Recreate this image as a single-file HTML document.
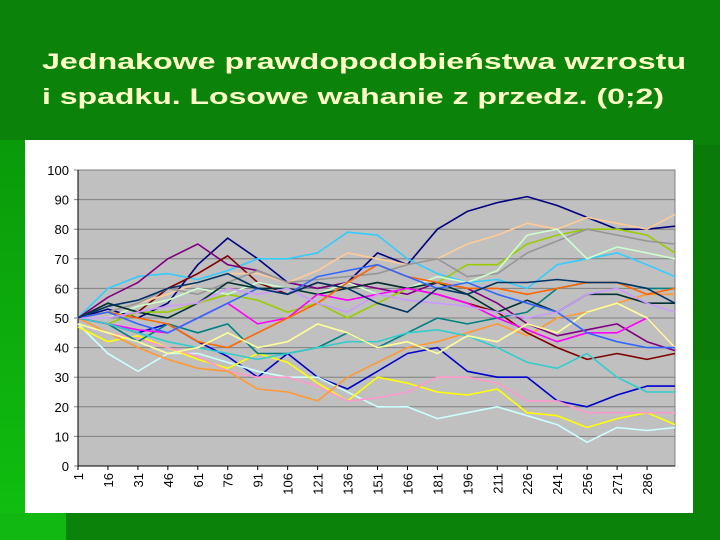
<!DOCTYPE html>
<html><head><meta charset="utf-8"><style>
html,body{margin:0;padding:0}
body{width:720px;height:540px;overflow:hidden;background:#0b830b;position:relative;font-family:"Liberation Sans",sans-serif}
#lstrip{position:absolute;left:0;top:140px;width:26px;height:400px;background:linear-gradient(#0a9a0a,#10c010)}
#bstrip{position:absolute;left:0;top:513px;width:66px;height:27px;background:#12b812}
#rstrip{position:absolute;left:693px;top:145px;width:27px;height:215px;background:#0a7a0a}
svg{position:absolute;left:0;top:0}
</style></head><body>
<div id="lstrip"></div>
<div id="bstrip"></div>
<div id="rstrip"></div>
<svg width="720" height="540">
<text x="42" y="69" font-size="22" font-weight="bold" fill="#ffffc8" textLength="644" lengthAdjust="spacingAndGlyphs">Jednakowe prawdopodobieństwa wzrostu</text>
<text x="42" y="104" font-size="22" font-weight="bold" fill="#ffffc8" textLength="622" lengthAdjust="spacingAndGlyphs">i spadku. Losowe wahanie z przedz. (0;2)</text>
<rect x="25" y="140" width="668" height="373" fill="#fff"/>
<g id="chart"></g>
</svg>
<script>
const categories=[1,16,31,46,61,76,91,106,121,136,151,166,181,196,211,226,241,256,271,286,300];
const tickLabels=["1","16","31","46","61","76","91","106","121","136","151","166","181","196","211","226","241","256","271","286"];
const yTicks=[0,10,20,30,40,50,60,70,80,90,100];
const colors=["#000080","#0000cc","#ccffff","#ffff00","#ff99cc","#ff9933","#33ccff","#800080","#800000","#ffcc99","#99cc00","#969696","#ccffcc","#008080","#003333","#ff00ff","#33cccc","#ff6600","#ffff99","#3366ff","#cc99ff","#003366"];
const s0=[50,53,50,55,68,77,70,62,60,62,72,68,80,86,89,91,88,84,80,80,81];
const s1=[50,48,45,48,42,37,30,38,30,26,32,38,40,32,30,30,22,20,24,27,27];
const s2=[48,38,32,38,38,35,32,30,30,25,20,20,16,18,20,17,14,8,13,12,13];
const s3=[47,42,44,40,36,33,38,35,28,22,30,28,25,24,26,18,17,13,16,18,14];
const s4=[48,45,43,40,37,32,30,30,27,22,23,25,30,30,28,22,22,18,18,18,18];
const s5=[50,45,40,36,33,32,26,25,22,30,35,40,42,45,48,44,50,52,55,58,58];
const s6=[50,60,64,65,63,66,70,70,72,79,78,70,65,62,63,60,68,70,72,68,64];
const s7=[50,57,62,70,75,68,66,62,60,62,60,58,62,60,55,48,44,46,48,42,39];
const s8=[50,55,52,60,65,71,62,58,62,60,62,60,58,55,52,45,40,36,38,36,38];
const s9=[50,52,55,58,62,65,65,62,66,72,70,68,70,75,78,82,80,84,82,80,85];
const s10=[50,48,52,52,55,58,56,52,55,50,55,60,62,68,68,75,78,80,80,78,72];
const s11=[50,52,55,60,58,62,66,62,63,64,65,68,70,64,65,72,76,80,78,76,75];
const s12=[50,50,54,56,60,58,62,60,58,62,58,60,64,62,66,78,80,70,74,72,70];
const s13=[50,48,42,48,45,48,38,38,40,45,40,45,50,48,50,52,60,62,62,60,60];
const s14=[50,55,52,50,55,62,60,60,58,60,62,60,62,58,52,56,52,58,58,55,55];
const s15=[50,48,46,45,50,55,48,50,58,56,58,60,58,55,50,46,42,45,45,50,40];
const s16=[50,48,45,42,40,38,36,38,40,42,42,45,46,44,40,35,33,38,30,25,25];
const s17=[50,52,50,48,42,40,45,50,55,62,68,64,62,60,60,58,60,62,62,58,60];
const s18=[48,45,42,38,40,45,40,42,48,45,40,42,38,44,42,48,45,52,55,50,40];
const s19=[50,52,48,45,50,55,60,58,64,66,68,64,60,62,58,55,52,45,42,40,40];
const s20=[50,50,52,54,55,60,58,60,55,52,58,56,55,54,52,50,52,58,60,55,52];
const s21=[50,54,56,60,62,65,60,58,62,60,55,52,60,58,62,62,63,62,62,60,55];
const series=[s0,s1,s2,s3,s4,s5,s6,s7,s8,s9,s10,s11,s12,s13,s14,s15,s16,s17,s18,s19,s20,s21];
const NS="http://www.w3.org/2000/svg";
const L=78,R=675,T=170,B=466;
const xs=c=>L+(c-1)*(R-L)/299;
const ys=v=>B-v*(B-T)/100;
const g=document.getElementById('chart');
function mk(t,a){const e=document.createElementNS(NS,t);for(const k in a)e.setAttribute(k,a[k]);g.appendChild(e);return e;}
const bg=mk('rect',{x:L,y:T,width:R-L,height:B-T,fill:'#c0c0c0',stroke:'#808080'});


yTicks.forEach(v=>{
 const ln=mk('line',{x1:L-4,x2:R,y1:ys(v),y2:ys(v),stroke:'#808080','stroke-width':1});
 
 
 const t=mk('text',{x:L-9,y:ys(v)+5,'font-size':13,'text-anchor':'end',fill:'#000'});
 t.textContent=v;
 
 
});
const ax=mk('line',{x1:L,x2:R,y1:B,y2:B,stroke:'#000'});


const ay=mk('line',{x1:L,x2:L,y1:T,y2:B,stroke:'#000'});


tickLabels.forEach(lb=>{
 const c=+lb,x=xs(c);
 const tk=mk('line',{x1:x,x2:x,y1:B,y2:B+4,stroke:'#000'});
 
 
 const t=mk('text',{x:0,y:0,'font-size':13,'text-anchor':'end',fill:'#000',transform:`translate(${x+5},${B+7}) rotate(-90)`});
 t.textContent=lb;
 
 
});
series.forEach((s,i)=>{
 const pts=s.map((v,j)=>xs(categories[j]).toFixed(1)+','+ys(v).toFixed(1)).join(' ');
 const p=mk('polyline',{points:pts,fill:'none',stroke:colors[i%colors.length],'stroke-width':1.6,'stroke-linejoin':'round'});
 
 
});
</script>
</body></html>
